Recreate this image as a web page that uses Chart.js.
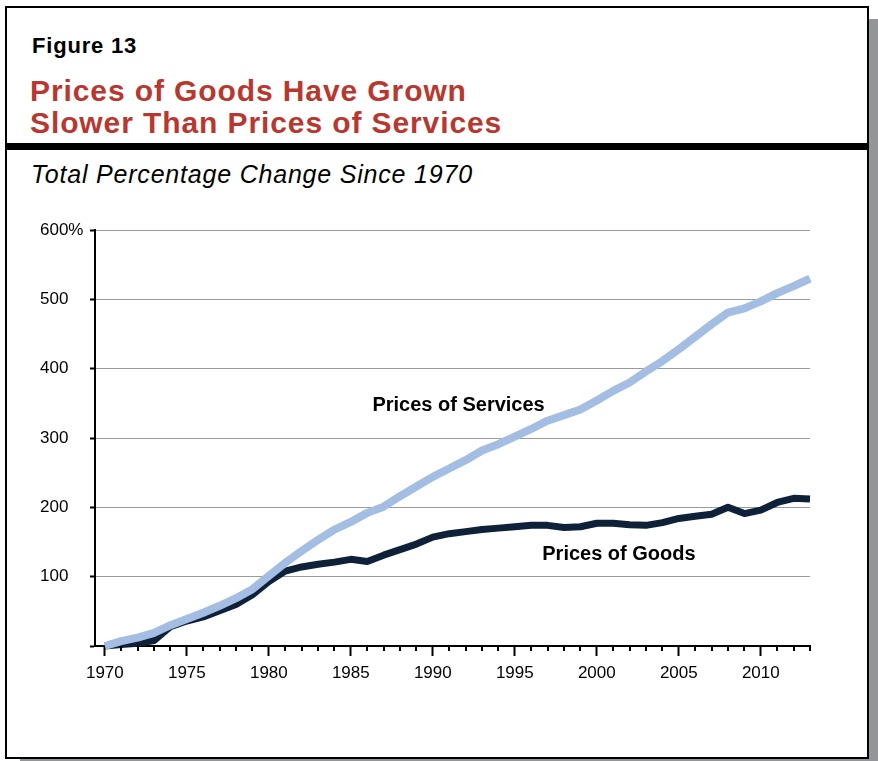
<!DOCTYPE html>
<html>
<head>
<meta charset="utf-8">
<script src="https://cdn.jsdelivr.net/npm/chart.js@4.4.1/dist/chart.umd.min.js"></script>
<style>
    body { margin: 0; width: 878px; height: 761px; position: relative; overflow: hidden; background: #fff; font-family: "Liberation Sans", Arial, sans-serif; }
    #shadow { position: absolute; left: 20px; top: 19px; width: 858px; height: 760px; background: #939598; }
    #frame { position: absolute; left: 5px; top: 6px; width: 860px; height: 749px; border: 2px solid #000; background: #fff; }
    #rule { position: absolute; left: 5px; top: 143px; width: 864px; height: 7px; background: #000; }
    .txt { position: absolute; white-space: nowrap; line-height: 1; }
    #fig { left: 32px; top: 35px; font-size: 22px; font-weight: bold; color: #000; letter-spacing: 0.8px; }
    #title { left: 30px; top: 75px; font-size: 30px; line-height: 32px; font-weight: bold; color: #b8382f; letter-spacing: 0.9px; }
    #sub { left: 31px; top: 162px; font-size: 25px; font-style: italic; color: #000; letter-spacing: 0.8px; }
    #wrap { position: absolute; left: 0; top: 200px; width: 878px; height: 500px; }
</style>
</head>
<body>
<div id="shadow"></div>
<div id="frame"></div>
<div id="rule"></div>
<div class="txt" id="fig">Figure 13</div>
<div class="txt" id="title">Prices of Goods Have Grown<br>Slower Than Prices of Services</div>
<div class="txt" id="sub">Total Percentage Change Since 1970</div>
<div id="wrap"><canvas id="chart"></canvas></div>
<script>
// Total percentage change since 1970
const years = [];
for (let y = 1970; y <= 2013; y++) years.push(y);

const services = [0, 7, 12, 19, 30, 39, 48, 58, 69, 82,
    101, 120, 137, 153, 168, 179, 192, 201, 216, 230,
    244, 256, 268, 282, 291, 302, 313, 325, 333, 341,
    354, 368, 380, 396, 411, 428, 446, 464, 481, 487,
    497, 509, 519, 530];

const goods = [0, 2, 4, 8, 28, 36, 42, 51, 60, 74,
    93, 108, 114, 118, 121, 125, 122, 131, 139, 147,
    157, 162, 165, 168, 170, 172, 174, 174, 171, 172,
    177, 177, 175, 174, 178, 184, 187, 190, 200, 191,
    196, 207, 213, 212];

const yTicks = [0, 100, 200, 300, 400, 500, 600];

// in-chart series labels, anchored in data units
const seriesLabels = [
    { text: 'Prices of Services', year: 1991.57, value: 339 },
    { text: 'Prices of Goods', year: 2001.35, value: 124 }
];

const FONT = '"Liberation Sans", Arial, sans-serif';

const annotate = {
    id: 'annotate',
    afterDraw(chart) {
        const { ctx, scales: { x, y } } = chart;
        ctx.save();
        // short ticks for the in-between years
        ctx.strokeStyle = '#000';
        ctx.lineWidth = 2;
        x.ticks.forEach(t => {
            if (t.value % 5 !== 0) {
                const px = Math.round(x.getPixelForValue(t.value));
                ctx.beginPath();
                ctx.moveTo(px, x.top);
                ctx.lineTo(px, x.top + 5);
                ctx.stroke();
            }
        });
        ctx.fillStyle = '#000';
        ctx.font = 'bold 20px ' + FONT;
        ctx.textAlign = 'center';
        ctx.textBaseline = 'alphabetic';
        seriesLabels.forEach(l => {
            ctx.fillText(l.text, x.getPixelForValue(l.year), y.getPixelForValue(l.value));
        });
        ctx.restore();
    }
};

new Chart(document.getElementById('chart'), {
    type: 'line',
    data: {
        labels: years,
        datasets: [
            { label: 'Prices of Services', data: services, borderColor: '#a3bde3', borderWidth: 8, pointRadius: 0, borderJoinStyle: 'round', clip: false },
            { label: 'Prices of Goods', data: goods, borderColor: '#0e2139', borderWidth: 7, pointRadius: 0, borderJoinStyle: 'round', clip: false }
        ]
    },
    options: {
        responsive: true,
        maintainAspectRatio: false,
        animation: false,
        layout: { padding: { left: 40, right: 68, top: 30, bottom: 10 } },
        plugins: { legend: { display: false }, tooltip: { enabled: false } },
        scales: {
            x: {
                type: 'linear',
                min: 1969.4,
                max: 2013,
                afterFit: s => { s.height = 44; },
                border: { color: '#000', width: 2 },
                grid: {
                    drawOnChartArea: false,
                    tickLength: 10,
                    tickWidth: 2,
                    tickColor: c => (c.tick && c.tick.value % 5 === 0) ? '#000' : 'rgba(0,0,0,0)'
                },
                ticks: {
                    stepSize: 1,
                    includeBounds: false,
                    autoSkip: false,
                    maxRotation: 0,
                    maxTicksLimit: 100,
                    padding: 7,
                    color: '#000',
                    font: { family: FONT, size: 17 },
                    callback: v => v % 5 === 0 ? String(v) : ''
                }
            },
            y: {
                min: 0,
                max: 600,
                afterFit: s => { s.width = 55; },
                afterBuildTicks: s => { s.ticks = yTicks.map(v => ({ value: v })); },
                border: { color: '#000', width: 2 },
                grid: { color: '#9a9a9a', lineWidth: 1, tickLength: 5, tickColor: '#000', tickWidth: 2 },
                ticks: {
                    crossAlign: 'far',
                    color: '#000',
                    font: { family: FONT, size: 17 },
                    callback: v => v === 600 ? '600%' : (v === 0 ? '' : String(v))
                }
            }
        }
    },
    plugins: [annotate]
});
</script>
</body>
</html>
